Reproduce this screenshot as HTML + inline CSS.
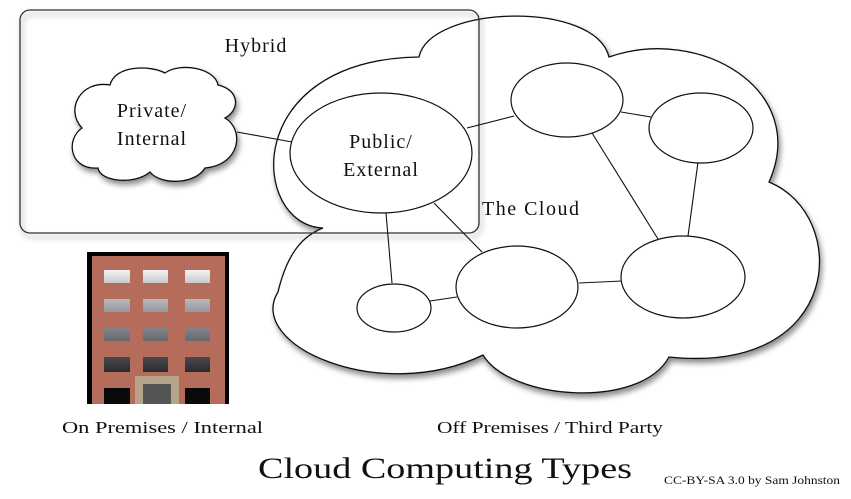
<!DOCTYPE html>
<html><head><meta charset="utf-8"><style>
html,body{margin:0;padding:0;background:#fff;}
svg{display:block;}
text{font-family:"Liberation Serif",serif;fill:#111;}
</style></head><body>
<svg width="851" height="499" viewBox="0 0 851 499" xmlns="http://www.w3.org/2000/svg">
<defs>
<filter id="sh" x="-10%" y="-10%" width="130%" height="130%">
<feDropShadow dx="2" dy="4" stdDeviation="3" flood-color="#000" flood-opacity="0.45"/>
</filter>
<linearGradient id="w1" x1="0" y1="0" x2="0" y2="1"><stop offset="0" stop-color="#f4f4f6"/><stop offset="1" stop-color="#c8c8cc"/></linearGradient>
<linearGradient id="w2" x1="0" y1="0" x2="0" y2="1"><stop offset="0" stop-color="#b8b8bc"/><stop offset="1" stop-color="#98989c"/></linearGradient>
<linearGradient id="w3" x1="0" y1="0" x2="0" y2="1"><stop offset="0" stop-color="#858589"/><stop offset="1" stop-color="#68686c"/></linearGradient>
<linearGradient id="w4" x1="0" y1="0" x2="0" y2="1"><stop offset="0" stop-color="#4a4a4e"/><stop offset="1" stop-color="#2a2a2e"/></linearGradient>
</defs>

<path d="M323,228 C250,225 240,60 419,57 C430,5 595,0 609,57 C700,25 810,90 769,182 C850,215 845,375 669,357 C640,410 510,400 483,355 C380,405 245,345 278,292 C288,250 305,235 323,228 Z" fill="#fff" stroke="#111" stroke-width="1.3" filter="url(#sh)"/>

<rect x="20" y="10" width="459" height="223" rx="10" fill="none" stroke="#333" stroke-width="1.3" filter="url(#sh)"/>

<g stroke="#111" stroke-width="1.1">
<line x1="237" y1="132" x2="292" y2="142"/>
<line x1="467" y1="128" x2="514" y2="116"/>
<line x1="621" y1="112" x2="651" y2="117"/>
<line x1="592" y1="133" x2="658" y2="239"/>
<line x1="698" y1="162" x2="688" y2="236"/>
<line x1="386" y1="213" x2="392" y2="283"/>
<line x1="434" y1="203" x2="482" y2="252"/>
<line x1="430" y1="301" x2="457" y2="297"/>
<line x1="579" y1="283" x2="622" y2="281"/>
</g>

<path d="M82,128 C65,110 80,80 110,85 C115,65 150,65 165,73 C180,62 215,68 218,85 C240,90 240,110 225,118 C245,130 240,165 205,168 C195,185 160,185 150,172 C135,185 100,182 98,168 C70,170 65,140 82,128 Z" fill="#fff" stroke="#111" stroke-width="1.3" filter="url(#sh)"/>

<g fill="#fff" stroke="#111" stroke-width="1.2">
<ellipse cx="381" cy="153" rx="91" ry="60"/>
<ellipse cx="567" cy="100" rx="56" ry="37"/>
<ellipse cx="701" cy="128" rx="52" ry="35"/>
<ellipse cx="683" cy="277" rx="62" ry="41"/>
<ellipse cx="517" cy="287" rx="61" ry="41"/>
<ellipse cx="394" cy="308" rx="37" ry="24"/>
</g>

<rect x="87" y="252" width="142" height="152" fill="#000"/>
<rect x="92" y="256" width="133" height="148" fill="#b56c5a"/>
<g>
<rect x="104" y="270" width="26" height="13" fill="url(#w1)"/><rect x="143" y="270" width="25" height="13" fill="url(#w1)"/><rect x="185" y="270" width="25" height="13" fill="url(#w1)"/>
<rect x="104" y="299" width="26" height="13" fill="url(#w2)"/><rect x="143" y="299" width="25" height="13" fill="url(#w2)"/><rect x="185" y="299" width="25" height="13" fill="url(#w2)"/>
<rect x="104" y="328" width="26" height="13" fill="url(#w3)"/><rect x="143" y="328" width="25" height="13" fill="url(#w3)"/><rect x="185" y="328" width="25" height="13" fill="url(#w3)"/>
<rect x="104" y="357" width="26" height="15" fill="url(#w4)"/><rect x="143" y="357" width="25" height="15" fill="url(#w4)"/><rect x="185" y="357" width="25" height="15" fill="url(#w4)"/>
<rect x="104" y="388" width="26" height="16" fill="#0a0a0a"/><rect x="185" y="388" width="25" height="16" fill="#0a0a0a"/>
<rect x="135" y="376" width="44" height="28" fill="#b5a48a"/>
<rect x="143" y="384" width="28" height="20" fill="#555"/>
</g>

<text x="256" y="52" font-size="20" text-anchor="middle" letter-spacing="1">Hybrid</text>
<text x="152" y="117" font-size="20" text-anchor="middle" letter-spacing="1">Private/</text>
<text x="152" y="145" font-size="20" text-anchor="middle" letter-spacing="1">Internal</text>
<text x="381" y="148" font-size="20" text-anchor="middle" letter-spacing="1">Public/</text>
<text x="381" y="176" font-size="20" text-anchor="middle" letter-spacing="1">External</text>
<text x="482" y="215" font-size="20" letter-spacing="1.5">The Cloud</text>
<text x="62" y="433" font-size="17" textLength="201" lengthAdjust="spacingAndGlyphs">On Premises / Internal</text>
<text x="437" y="433" font-size="17" textLength="226" lengthAdjust="spacingAndGlyphs">Off Premises / Third Party</text>
<text x="258" y="478" font-size="30" textLength="374" lengthAdjust="spacingAndGlyphs">Cloud Computing Types</text>
<text x="664" y="484" font-size="12" textLength="176" lengthAdjust="spacingAndGlyphs">CC-BY-SA 3.0 by Sam Johnston</text>
</svg>
</body></html>
